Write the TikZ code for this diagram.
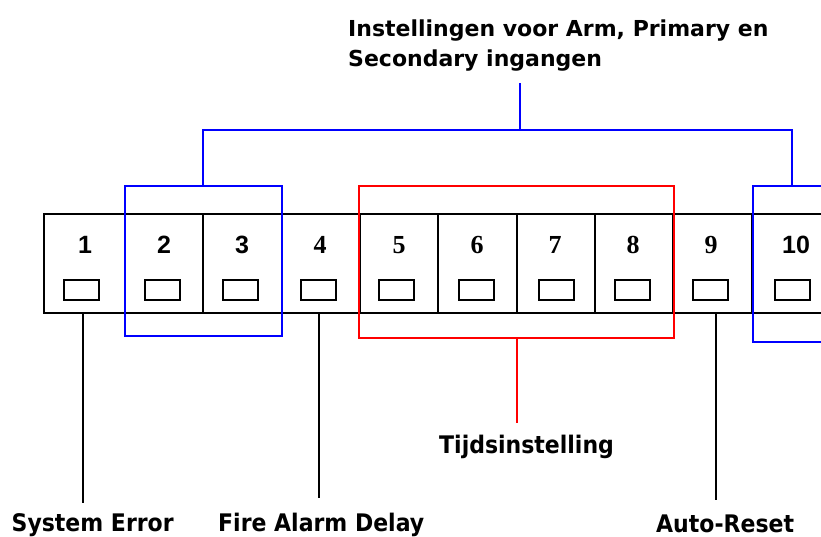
\documentclass[tikz,border=0pt]{standalone}
\usepackage{fontspec}
\setmainfont{DejaVu Sans}
\newfontfamily\numsans{Liberation Sans}
\newfontfamily\numserif{Liberation Serif}
\begin{document}
\begin{tikzpicture}[x=1pt,y=-1pt,
  lbl/.style={font=\fontsize{22}{26}\selectfont\bfseries, inner sep=0pt, anchor=base west},
  lblb/.style={lbl, yscale=1.1},
  numsans/.style={font=\numsans\fontsize{25}{28}\selectfont\bfseries, inner sep=0pt, anchor=base},
  numserif/.style={font=\numserif\fontsize{26}{28}\selectfont\bfseries, inner sep=0pt, anchor=base},
  blk/.style={line width=2pt, black},
  blu/.style={line width=2pt, blue},
  rd/.style={line width=2pt, red},
  pad/.style={draw, line width=2pt, black, minimum width=35pt, minimum height=20pt, inner sep=0pt}]
\useasboundingbox (0,0) rectangle (821,537);
\clip (0,0) rectangle (821,537);
\fill[white] (0,0) rectangle (821,537);
% main strip
\draw[blk] (830,214) -- (44,214) -- (44,313) -- (830,313);
\foreach \x in {125,203.3,281.7,360,438.3,516.7,595,673.3,751.7}
  \draw[blk] (\x,214) -- (\x,313);
% numbers
\node[numsans] (n1) at (85,253) {1};
\node[numsans] (n2) at (164,253) {2};
\node[numsans] (n3) at (242,253) {3};
\node[numserif] (n4) at (320,253) {4};
\node[numserif] (n5) at (399,253) {5};
\node[numserif] (n6) at (477,253) {6};
\node[numserif] (n7) at (555,253) {7};
\node[numserif] (n8) at (633,253) {8};
\node[numserif] (n9) at (711,253) {9};
\node[numsans] (n10) at (796,253) {10};
% pads
\foreach \x/\n in {81.8/1,162.2/2,240.2/3,318.3/4,396.5/5,476.5/6,556.5/7,632.5/8,710.8/9,792.5/10}
  \node[pad] (p\n) at (\x,290.3) {};
% blue group
\draw[blu] (125,186) rectangle (281.7,336);
\draw[blu] (835,186) -- (753,186) -- (753,342) -- (835,342);
\coordinate (b23) at (203,186);
\coordinate (b10) at (791.7,186);
\coordinate (bl) at (203,130);
\coordinate (br) at (791.7,130);
\coordinate (bm) at (520,130);
\coordinate (bt) at (520,83);
\draw[blu] (b23) -- (bl) -- (br) -- (b10);
\draw[blu] (bm) -- (bt);
% red group
\draw[rd] (359.3,186) rectangle (673.7,338);
\coordinate (rs) at (517.3,338);
\coordinate (re) at (517.3,423);
\draw[rd] (rs) -- (re);
% black stems
\coordinate (s1a) at (83.3,313); \coordinate (s1b) at (83.3,503);
\coordinate (s4a) at (319,313); \coordinate (s4b) at (319,498);
\coordinate (s9a) at (715.7,313); \coordinate (s9b) at (715.7,500);
\draw[blk] (s1a) -- (s1b);
\draw[blk] (s4a) -- (s4b);
\draw[blk] (s9a) -- (s9b);
% labels
\node[lbl] (t1) at (348,36.7) {Instellingen voor Arm, Primary en};
\node[lbl] (t2) at (348,66.5) {Secondary ingangen};
\node[lblb] (tijd) at (439,453) {Tijdsinstelling};
\node[lblb] (se) at (11.5,531) {System Error};
\node[lblb] (fad) at (218,531) {Fire Alarm Delay};
\node[lblb] (ar) at (656,532) {Auto-Reset};
\end{tikzpicture}
\end{document}
